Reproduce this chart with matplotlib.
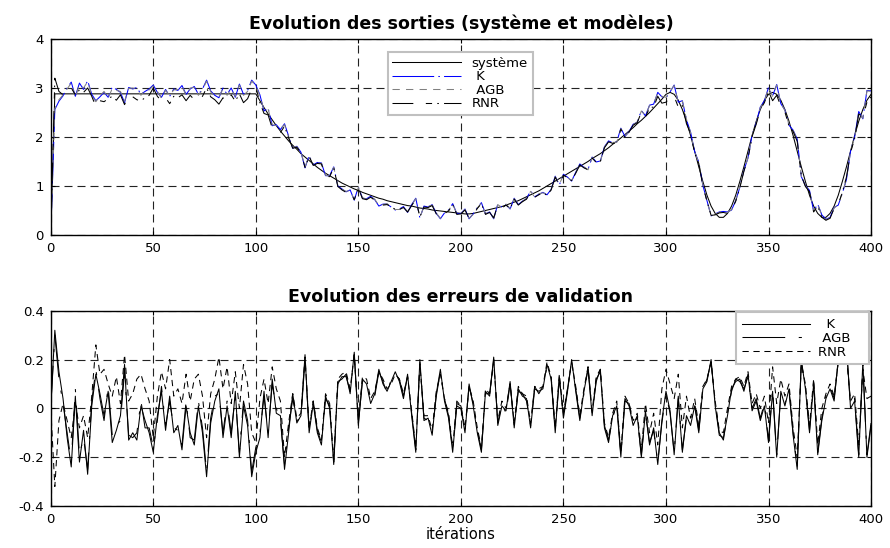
import numpy as np
import matplotlib
matplotlib.use('Agg')
import matplotlib.pyplot as plt

# ---------------- data ----------------
iterations = np.arange(0, 401, 2)

systeme = [0.00] + [2.88] * 50 + [
    2.74, 2.60, 2.47, 2.35, 2.23, 2.12, 2.02, 1.92, 1.83, 1.75,
    1.66, 1.59, 1.52, 1.45, 1.38, 1.32, 1.26, 1.21, 1.16, 1.11,
    1.06, 1.02, 0.98, 0.94, 0.91, 0.87, 0.84, 0.81, 0.78, 0.75,
    0.73, 0.70, 0.68, 0.66, 0.64, 0.62, 0.60, 0.59, 0.57, 0.55,
    0.54, 0.53, 0.51, 0.50, 0.49, 0.48, 0.47, 0.46, 0.45, 0.44,
    0.43, 0.43, 0.44, 0.46, 0.48, 0.50, 0.52, 0.54, 0.56, 0.58,
    0.61, 0.64, 0.67, 0.70, 0.74, 0.78, 0.82, 0.86, 0.90, 0.95,
    1.00, 1.05, 1.10, 1.15, 1.20, 1.25, 1.30, 1.35, 1.40, 1.45,
    1.50, 1.56, 1.61, 1.66, 1.72, 1.78, 1.85, 1.91, 1.98, 2.05,
    2.12, 2.19, 2.27, 2.34, 2.42, 2.50, 2.59, 2.68, 2.77, 2.87,
    2.91, 2.87, 2.75, 2.56, 2.32, 2.03, 1.71, 1.39, 1.09, 0.81,
    0.59, 0.44, 0.36, 0.36, 0.44, 0.59, 0.81, 1.09, 1.39, 1.71,
    2.03, 2.32, 2.56, 2.75, 2.87, 2.91, 2.87, 2.75, 2.56, 2.32,
    2.03, 1.71, 1.39, 1.09, 0.81, 0.59, 0.44, 0.36, 0.36, 0.44,
    0.59, 0.81, 1.09, 1.39, 1.71, 2.03, 2.32, 2.56, 2.75, 2.87,
]

err_K = [
    0.00, 0.32, 0.15, 0.04, -0.12, -0.24, 0.05, -0.22, -0.09, -0.27,
    0.01, 0.14, 0.06, -0.03, 0.07, -0.14, -0.09, -0.03, 0.18, -0.13,
    -0.10, -0.13, 0.01, -0.05, -0.10, -0.18, -0.03, 0.07, -0.09, 0.05,
    -0.10, -0.07, -0.17, 0.01, -0.10, -0.15, 0.01, -0.10, -0.28, -0.06,
    0.03, 0.08, -0.12, 0.01, -0.12, 0.07, -0.20, 0.01, -0.07, -0.28,
    -0.18, -0.12, 0.07, -0.12, 0.12, -0.02, -0.03, -0.25, -0.10, 0.06,
    -0.06, -0.03, 0.22, -0.10, 0.02, -0.10, -0.15, 0.05, 0.00, -0.23,
    0.11, 0.12, 0.14, 0.06, 0.23, -0.07, 0.12, 0.10, 0.02, 0.06,
    0.16, 0.10, 0.07, 0.11, 0.15, 0.11, 0.04, 0.14, -0.03, -0.18,
    0.20, -0.05, -0.04, -0.11, 0.06, 0.16, 0.03, -0.04, -0.18, 0.01,
    0.00, -0.10, 0.10, 0.01, -0.10, -0.18, 0.07, 0.05, 0.21, -0.07,
    0.01, -0.01, 0.11, -0.08, 0.08, 0.05, 0.04, -0.08, 0.08, 0.07,
    0.08, 0.18, 0.12, -0.10, 0.13, -0.04, 0.07, 0.20, 0.07, -0.05,
    0.07, 0.16, -0.03, 0.12, 0.15, -0.08, -0.14, -0.03, 0.01, -0.20,
    0.04, 0.01, -0.07, -0.03, -0.20, -0.01, -0.15, -0.08, -0.23, -0.05,
    0.07, -0.01, -0.19, 0.04, -0.18, -0.03, -0.07, 0.01, -0.10, 0.08,
    0.11, 0.20, 0.01, -0.11, -0.12, -0.03, 0.08, 0.11, 0.12, 0.07,
    0.14, -0.01, 0.03, -0.05, 0.01, -0.14, 0.07, -0.20, 0.07, 0.01,
    0.08, -0.11, -0.25, 0.20, 0.08, -0.10, 0.10, -0.19, -0.05, 0.04,
    0.08, 0.03, 0.20, 0.24, 0.26, 0.00, 0.03, -0.20, 0.19, -0.20,
    -0.07,
]

err_AGB = [
    0.00, 0.30, 0.12, 0.02, -0.10, -0.22, 0.08, -0.19, -0.12, -0.25,
    0.03, 0.16, 0.04, -0.05, 0.09, -0.11, -0.07, -0.05, 0.15, -0.11,
    -0.12, -0.10, 0.03, -0.08, -0.08, -0.16, -0.05, 0.09, -0.07, 0.03,
    -0.08, -0.09, -0.15, 0.03, -0.12, -0.13, 0.03, -0.08, -0.26, -0.04,
    0.05, 0.06, -0.10, 0.03, -0.10, 0.05, -0.18, 0.03, -0.05, -0.26,
    -0.16, -0.10, 0.05, -0.10, 0.10, 0.00, -0.05, -0.23, -0.08, 0.04,
    -0.05, -0.04, 0.20, -0.09, 0.03, -0.09, -0.14, 0.04, 0.01, -0.22,
    0.10, 0.13, 0.13, 0.07, 0.22, -0.06, 0.11, 0.11, 0.03, 0.05,
    0.15, 0.11, 0.06, 0.12, 0.14, 0.12, 0.05, 0.13, -0.02, -0.17,
    0.19, -0.04, -0.05, -0.10, 0.05, 0.15, 0.04, -0.03, -0.17, 0.02,
    0.01, -0.09, 0.09, 0.02, -0.09, -0.17, 0.06, 0.06, 0.20, -0.06,
    0.02, -0.02, 0.10, -0.07, 0.07, 0.06, 0.03, -0.07, 0.09, 0.06,
    0.09, 0.17, 0.13, -0.09, 0.12, -0.03, 0.08, 0.19, 0.08, -0.04,
    0.06, 0.17, -0.02, 0.11, 0.16, -0.07, -0.13, -0.04, 0.02, -0.19,
    0.03, 0.02, -0.06, -0.04, -0.19, -0.02, -0.14, -0.09, -0.22, -0.06,
    0.06, -0.02, -0.18, 0.05, -0.17, -0.04, -0.06, 0.02, -0.09, 0.07,
    0.12, 0.19, 0.02, -0.10, -0.13, -0.02, 0.07, 0.12, 0.11, 0.08,
    0.13, 0.00, 0.04, -0.04, 0.02, -0.13, 0.08, -0.19, 0.06, 0.02,
    0.07, -0.10, -0.24, 0.19, 0.09, -0.09, 0.11, -0.18, -0.04, 0.05,
    0.09, 0.04, 0.19, 0.23, 0.25, 0.01, 0.04, -0.19, 0.18, -0.19,
    -0.06,
]

err_RNR = [
    0.00, -0.32, -0.05, 0.02, -0.05, -0.12, 0.02, -0.08, -0.03, -0.12,
    0.05, 0.26, 0.14, 0.16, 0.10, 0.05, 0.13, 0.02, 0.22, 0.03,
    0.06, 0.12, 0.14, 0.08, 0.03, -0.12, 0.05, 0.15, 0.08, 0.20,
    0.05, 0.08, 0.02, 0.14, 0.03, 0.12, 0.14, 0.05, -0.12, 0.06,
    0.12, 0.21, 0.08, 0.17, 0.02, 0.15, 0.00, 0.18, 0.10, -0.10,
    -0.14, 0.04, 0.12, 0.02, 0.17, 0.08, 0.03, -0.20, -0.06, 0.06,
    -0.04, -0.02, 0.21, -0.08, 0.03, -0.08, -0.13, 0.06, 0.02, -0.21,
    0.12, 0.14, 0.15, 0.08, 0.22, -0.05, 0.13, 0.12, 0.04, 0.07,
    0.15, 0.12, 0.08, 0.10, 0.14, 0.12, 0.06, 0.13, -0.01, -0.16,
    0.18, -0.03, -0.03, -0.09, 0.07, 0.14, 0.04, -0.02, -0.16, 0.03,
    0.01, -0.08, 0.09, 0.03, -0.08, -0.16, 0.08, 0.06, 0.19, -0.05,
    0.03, 0.00, 0.10, -0.06, 0.09, 0.06, 0.05, -0.06, 0.09, 0.08,
    0.09, 0.19, 0.13, -0.08, 0.14, -0.02, 0.08, 0.19, 0.09, -0.03,
    0.08, 0.17, -0.01, 0.13, 0.16, -0.06, -0.12, -0.02, 0.03, -0.18,
    0.05, 0.02, -0.05, -0.02, -0.17, 0.02, -0.10, -0.02, -0.15, 0.08,
    0.16, 0.10, 0.04, 0.14, -0.08, 0.05, -0.04, 0.04, -0.07, 0.09,
    0.12, 0.19, 0.03, -0.09, -0.10, 0.00, 0.09, 0.12, 0.13, 0.09,
    0.15, 0.02, 0.06, 0.00, 0.05, -0.06, 0.17, 0.02, 0.12, 0.05,
    0.10, -0.08, -0.20, 0.18, 0.10, -0.07, 0.12, -0.15, 0.00, 0.06,
    0.10, 0.05, 0.19, 0.22, 0.21, 0.03, 0.06, -0.15, 0.16, 0.04,
    0.05,
]

x_ticks = [0, 50, 100, 150, 200, 250, 300, 350, 400]
y_ticks_top = [0, 1, 2, 3, 4]
y_ticks_bot = [-0.4, -0.2, 0, 0.2, 0.4]
y_ticklabels_bot = ['-0.4', '-0.2', '0', '0.2', '0.4']

title_top = 'Evolution des sorties (système et modèles)'
title_bot = 'Evolution des erreurs de validation'
xlabel_bot = 'itérations'
labels_top = ['système', ' K', ' AGB', 'RNR']
labels_bot = ['  K', ' AGB', 'RNR']

# derived model outputs (model = system - error)
sys_arr = np.array(systeme)
mod_K = sys_arr - np.array(err_K)
mod_AGB = sys_arr - np.array(err_AGB)
mod_RNR = sys_arr - np.array(err_RNR)

# ---------------- style ----------------
plt.rcParams['font.family'] = ['DejaVu Sans']
plt.rcParams['axes.unicode_minus'] = False

fig = plt.figure(figsize=(8.9, 5.48), dpi=100)
ax1 = fig.add_axes([0.057, 0.5712, 0.9217, 0.3577])
ax2 = fig.add_axes([0.057, 0.0766, 0.9217, 0.3564])

lw = 0.75
ax1.plot(iterations, sys_arr, color='k', lw=lw, label=labels_top[0])
ax1.plot(iterations, mod_K, color='#0000ff', lw=lw,
         linestyle=(0, (40, 4, 1.5, 4)), label=labels_top[1])
ax1.plot(iterations, mod_AGB, color='#808080', lw=lw,
         linestyle=(0, (7, 6)), label=labels_top[2])
ax1.plot(iterations, mod_RNR, color='k', lw=lw,
         linestyle=(0, (20, 12, 6, 5, 1.5, 5)), label=labels_top[3])

ax2.plot(iterations, err_K, color='k', lw=lw, label=labels_bot[0])
ax2.plot(iterations, err_AGB, color='k', lw=lw,
         linestyle=(0, (41, 13, 3, 13)), label=labels_bot[1])
ax2.plot(iterations, err_RNR, color='k', lw=lw,
         linestyle=(0, (6, 4.5)), label=labels_bot[2])

for ax in (ax1, ax2):
    ax.set_xlim(0, 400)
    ax.set_xticks(x_ticks)
    ax.grid(True, color='#222222', linestyle=(0, (7.2, 4.5)), linewidth=0.8)
    ax.tick_params(direction='in', length=3, labelsize=9.5, pad=5,
                   top=True, right=True)
    for s in ax.spines.values():
        s.set_linewidth(1.0)
        s.set_color('k')

ax1.set_ylim(0, 4)
ax1.set_yticks(y_ticks_top)
ax2.set_ylim(-0.4, 0.4)
ax2.set_yticks(y_ticks_bot)
ax2.set_yticklabels(y_ticklabels_bot)

ax1.set_title(title_top, fontsize=12.5, fontweight='bold', pad=7)
ax2.set_title(title_bot, fontsize=12.5, fontweight='bold', pad=6)
ax2.set_xlabel(xlabel_bot, fontsize=10.5, labelpad=1)

leg_kw = dict(fontsize=9.5, frameon=True, fancybox=False, framealpha=1,
              edgecolor='#c0c0c0', borderaxespad=0, handlelength=5.2,
              labelspacing=0.05)
l1 = ax1.legend(loc='upper left', bbox_to_anchor=(0.411, 0.934),
                handletextpad=0.8, borderpad=0.35, **leg_kw)
l1.get_frame().set_linewidth(1.5)
l2 = ax2.legend(loc='upper right', bbox_to_anchor=(0.998, 0.992),
                handletextpad=0.6, borderpad=0.45, **leg_kw)
l2.get_frame().set_linewidth(1.5)
for t in l2.get_texts():
    t.set_text(t.get_text() + '   ')

fig.savefig('out.png', dpi=100)
